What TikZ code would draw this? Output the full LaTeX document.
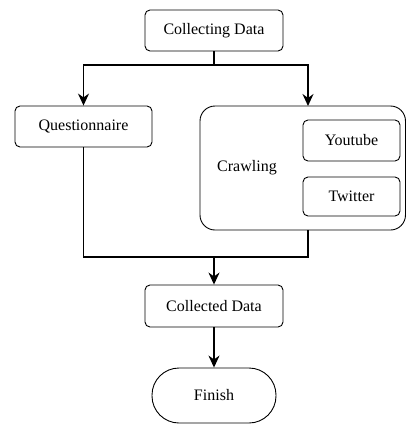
\documentclass[tikz,border=0pt]{standalone}
\usepackage{fontspec}
\setmainfont{Liberation Serif}
\usetikzlibrary{arrows.meta}
\begin{document}
\begin{tikzpicture}[x=1pt,y=-1pt,
  txt/.style={font=\fontsize{16}{18}\selectfont},
  box/.style={draw, rounded corners=5pt, line width=0.9pt, txt},
  conn/.style={line width=1.4pt},
  arr/.style={conn, -{Stealth[length=12pt,width=11pt]}}]
\useasboundingbox (0,0) rectangle (407,424);
\node[box, minimum width=138pt, minimum height=41pt] (collect) at (214,30.5) {Collecting Data};
\node[box, minimum width=137pt, minimum height=41pt] (quest) at (83.5,126.5) {Questionnaire};
\draw[line width=0.9pt, rounded corners=15pt] (200,106) rectangle (405.5,230);
\coordinate (crawtop) at (308,106);
\coordinate (crawbot) at (308,230);
\node[txt] (crawl) at (247,168) {Crawling};
\node[box, minimum width=97pt, minimum height=41pt] (yt) at (351.5,140.5) {Youtube};
\node[box, minimum width=97pt, minimum height=39pt] (tw) at (351.5,196.5) {Twitter};
\node[box, minimum width=138pt, minimum height=42pt] (colld) at (214,306) {Collected Data};
\node[draw, line width=0.9pt, rounded corners=27pt, minimum width=124pt, minimum height=55pt, txt] (fin) at (214,395.5) {Finish};
\coordinate (split) at (214,65);
\coordinate (join) at (214,257);
\draw[conn] (collect.south) -- (split);
\draw[arr] (split) -| (quest.north);
\draw[arr] (split) -| (crawtop);
\draw[conn] (quest.south) |- (join);
\draw[conn] (crawbot) |- (join);
\draw[arr] (join) -- (colld.north);
\draw[arr] (colld.south) -- (fin.north);
\end{tikzpicture}
\end{document}
